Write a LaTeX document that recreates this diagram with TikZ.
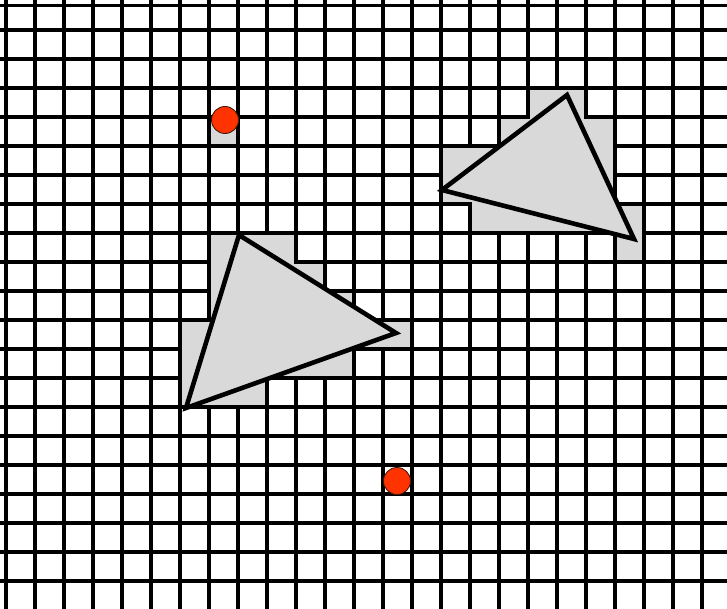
\documentclass[tikz,border=0pt]{standalone}
\usepackage{xcolor}
\usepackage{tikz}
\definecolor{rastgrey}{RGB}{217,217,217}
\definecolor{rastred}{RGB}{255,51,0}
\definecolor{rastdark}{RGB}{70,25,15}
\tikzset{
  gridline/.style = {line width=3.2pt, draw=black},
  covered/.style  = {fill=rastgrey, draw=black, line width=3.2pt},
  tri/.style      = {fill=rastgrey, draw=black, line width=4.6pt},
  sample/.style   = {circle, fill=rastred, draw=rastdark, line width=0.9pt,
                     minimum size=27pt, inner sep=0pt},
}

\begin{document}
\begin{tikzpicture}[x=29pt, y=-29pt]
  \useasboundingbox (-0.2069,-0.0345) rectangle (24.862,20.931);
  % grid
  \foreach \i in {0,...,24}
    \draw[gridline] (\i,-0.5) -- (\i,21.5);
  \draw[gridline] (-0.5,0.155) -- (25.5,0.155);
  \foreach \j in {1,...,20}
    \draw[gridline] (-0.5,\j) -- (25.5,\j);

  % covered cells
  \filldraw[covered] (7,4) rectangle (8,5);
  \filldraw[covered] (18,3) -- (20,3) -- (20,4) -- (21,4) -- (21,7) -- (22,7)
    -- (22,9) -- (21,9) -- (21,8) -- (16,8) -- (16,7) -- (15,7) -- (15,5)
    -- (17,5) -- (17,4) -- (18,4) -- cycle;
  \filldraw[covered] (7,8) -- (10,8) -- (10,9) -- (11,9) -- (11,10) -- (12,10)
    -- (12,11) -- (14,11) -- (14,12) -- (12,12) -- (12,13) -- (9,13) -- (9,14)
    -- (6,14) -- (6,11) -- (7,11) -- cycle;

  % triangles
  \coordinate (a1) at (19.345,3.241);
  \coordinate (a2) at (15.034,6.517);
  \coordinate (a3) at (21.655,8.207);
  \filldraw[tri] (a1) -- (a2) -- (a3) -- cycle;

  \coordinate (b1) at (8.034,8.069);
  \coordinate (b2) at (13.448,11.448);
  \coordinate (b3) at (6.207,14.034);
  \filldraw[tri] (b1) -- (b2) -- (b3) -- cycle;

  % sample points
  \node[sample] (dotA) at (7.552,4.103) {};
  \node[sample] (dotB) at (13.483,16.552) {};
\end{tikzpicture}
\end{document}
